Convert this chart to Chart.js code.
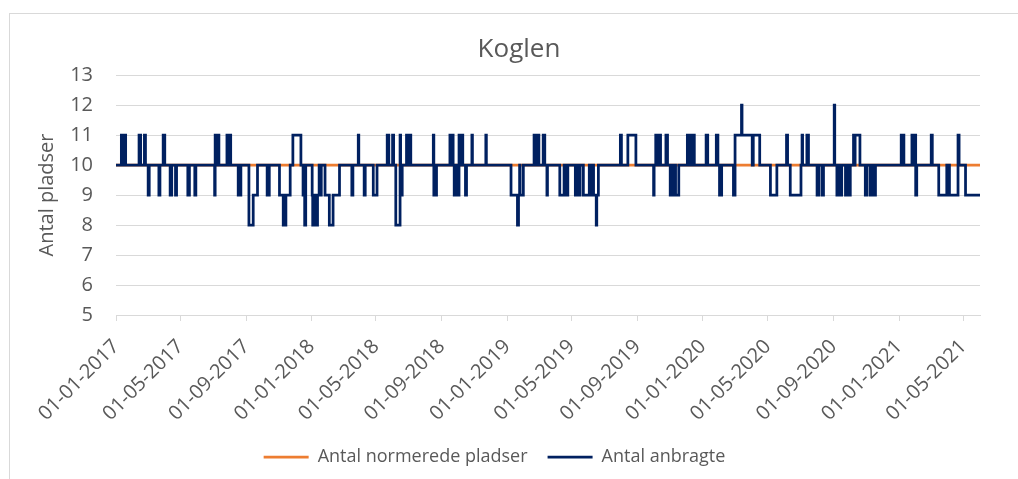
<!DOCTYPE html>
<html>
<head>
<meta charset="utf-8">
<title>Koglen</title>
<script src="https://cdn.jsdelivr.net/npm/chart.js@4.4.1/dist/chart.umd.min.js"></script>
<style>
  html, body { margin: 0; padding: 0; background: #fff; overflow: hidden; }
  #frame { position: absolute; left: 9px; top: 13px; width: 1200px; height: 700px; border: 1px solid #d9d9d9; }
  #myChart { position: absolute; left: 0; top: 0; }
</style>
</head>
<body>
<div id="frame"></div>
<canvas id="myChart" width="1018" height="479"></canvas>
<script>
const chartTitle = "Koglen";
const yTitle = "Antal pladser";

// x-axis tick labels (every 4 months)
const tickLabels = [
  "01-01-2017", "01-05-2017", "01-09-2017",
  "01-01-2018", "01-05-2018", "01-09-2018",
  "01-01-2019", "01-05-2019", "01-09-2019",
  "01-01-2020", "01-05-2020", "01-09-2020",
  "01-01-2021", "01-05-2021",
];

// Antal normerede pladser (flat)
const normDates = ["2017-01-01", "2021-06-01"];
const normValues = [10, 10];

// Antal anbragte: dates where the value changes, and the new value
const anbragteDates = [
  "2017-01-01", "2017-01-11", "2017-01-13", "2017-01-14", "2017-01-19", "2017-02-13", "2017-02-16",
  "2017-02-23", "2017-02-25", "2017-03-02", "2017-03-04", "2017-03-22", "2017-03-24", "2017-03-30",
  "2017-04-02", "2017-04-12", "2017-04-15", "2017-04-22", "2017-04-24", "2017-05-15", "2017-05-18",
  "2017-05-28", "2017-05-30", "2017-07-04", "2017-07-05", "2017-07-08", "2017-07-09", "2017-07-12",
  "2017-07-27", "2017-07-30", "2017-07-31", "2017-08-03", "2017-08-17", "2017-08-19", "2017-08-20",
  "2017-08-22", "2017-09-06", "2017-09-14", "2017-09-22", "2017-10-10", "2017-10-14", "2017-11-02",
  "2017-11-09", "2017-11-14", "2017-11-22", "2017-11-27", "2017-12-12", "2017-12-16", "2017-12-19",
  "2017-12-21", "2018-01-02", "2018-01-03", "2018-01-07", "2018-01-08", "2018-01-12", "2018-01-15",
  "2018-01-16", "2018-01-19", "2018-01-26", "2018-02-03", "2018-02-10", "2018-02-22",
  "2018-03-17", "2018-03-19", "2018-03-29", "2018-03-30", "2018-04-09", "2018-04-11", "2018-04-26",
  "2018-05-03", "2018-05-22", "2018-05-25", "2018-06-01", "2018-06-03", "2018-06-07", "2018-06-15",
  "2018-06-16", "2018-06-19", "2018-06-27", "2018-06-29", "2018-06-30", "2018-07-05", "2018-08-16",
  "2018-08-17", "2018-08-22", "2018-09-16", "2018-09-18", "2018-09-19", "2018-09-22", "2018-09-24",
  "2018-09-26", "2018-10-01", "2018-10-03", "2018-10-05", "2018-10-06", "2018-10-10", "2018-10-15",
  "2018-10-17", "2018-10-27", "2018-10-28", "2018-11-22", "2018-11-23",
  "2019-01-08", "2019-01-20", "2019-01-22", "2019-01-24", "2019-01-25", "2019-01-31", "2019-02-20",
  "2019-02-24", "2019-02-25", "2019-03-01", "2019-03-09", "2019-03-12", "2019-03-16", "2019-03-17",
  "2019-04-09", "2019-04-17", "2019-04-18", "2019-04-21", "2019-04-22", "2019-04-24", "2019-05-08",
  "2019-05-12", "2019-05-13", "2019-05-17", "2019-05-23", "2019-06-03", "2019-06-04", "2019-06-06",
  "2019-06-11", "2019-06-16", "2019-06-17", "2019-06-20", "2019-07-31", "2019-08-02", "2019-08-14",
  "2019-08-29", "2019-10-01", "2019-10-02", "2019-10-05", "2019-10-08", "2019-10-09", "2019-10-14",
  "2019-10-24", "2019-10-27", "2019-11-01", "2019-11-05", "2019-11-06", "2019-11-10", "2019-11-11",
  "2019-11-17", "2019-12-03", "2019-12-06", "2019-12-07", "2019-12-10", "2019-12-12", "2019-12-16",
  "2020-01-07", "2020-01-10", "2020-01-26", "2020-01-29", "2020-02-01", "2020-02-05", "2020-02-27",
  "2020-03-01", "2020-03-13", "2020-03-14", "2020-04-02", "2020-04-04", "2020-04-16", "2020-05-06",
  "2020-05-18", "2020-06-05", "2020-06-07", "2020-06-12", "2020-07-02", "2020-07-04", "2020-07-05",
  "2020-07-13", "2020-07-16", "2020-08-01", "2020-08-04", "2020-08-10", "2020-08-13", "2020-09-02",
  "2020-09-03", "2020-09-07", "2020-09-10", "2020-09-11", "2020-09-16", "2020-09-23", "2020-09-26",
  "2020-09-28", "2020-10-02", "2020-10-08", "2020-10-10", "2020-10-11", "2020-10-20", "2020-10-30",
  "2020-11-02", "2020-11-08", "2020-11-11", "2020-11-13", "2020-11-18",
  "2021-01-05", "2021-01-10", "2021-01-25", "2021-01-28", "2021-01-29", "2021-02-01", "2021-02-03",
  "2021-03-02", "2021-03-04", "2021-03-16", "2021-03-31", "2021-04-01", "2021-04-04", "2021-04-05",
  "2021-04-21", "2021-04-23", "2021-05-05", "2021-06-01",
];
const anbragteValues = [
  10, 11, 10, 11, 10, 11, 10,
  11, 10, 9, 10, 9, 10, 11,
  10, 9, 10, 9, 10, 9, 10,
  9, 10, 9, 11, 10, 11, 10,
  11, 10, 11, 10, 9, 10, 9,
  10, 8, 9, 10, 9, 10, 9,
  8, 9, 10, 11, 10, 9, 8,
  10, 9, 8, 9, 8, 9, 10,
  9, 10, 9, 8, 9, 10,
  9, 10, 11, 10, 9, 10, 9,
  10, 11, 10, 11, 10, 8, 11,
  9, 10, 11, 10, 11, 10, 11,
  9, 10, 11, 10, 11, 10, 9,
  10, 9, 11, 10, 11, 10, 9,
  10, 11, 10, 11, 10,
  9, 8, 9, 10, 9, 10, 11,
  10, 11, 10, 11, 10, 9, 10,
  9, 10, 9, 10, 9, 10, 9,
  10, 9, 10, 9, 10, 9, 10,
  9, 8, 9, 10, 11, 10, 11,
  10, 9, 10, 11, 10, 11, 10,
  11, 10, 9, 10, 9, 10, 9,
  10, 11, 10, 11, 10, 11, 10,
  11, 10, 11, 10, 9, 10, 9,
  11, 12, 11, 10, 11, 10, 9,
  10, 11, 10, 9, 10, 11, 10,
  11, 10, 9, 10, 9, 10, 12,
  10, 9, 10, 9, 10, 9, 10,
  9, 10, 11, 10, 11, 10, 9,
  10, 9, 10, 9, 10,
  11, 10, 11, 10, 11, 9, 10,
  11, 10, 9, 10, 9, 10, 9,
  11, 10, 9, 9,
];

// days since 01-01-2017
const dayNum = (s) => {
  const [y, m, d] = s.split("-").map(Number);
  return (Date.UTC(y, m - 1, d) - Date.UTC(2017, 0, 1)) / 86400000;
};
const tickDay = (label) => {
  const [d, m, y] = label.split("-");
  return dayNum(`${y}-${m}-${d}`);
};
const tickValues = tickLabels.map(tickDay);

const fontFamily = "'Open Sans', sans-serif";
const textColor = "#595959";
const gridColor = "#d9d9d9";

const titlePlugin = {
  id: "koglenTitle",
  afterDraw(chart) {
    const ctx = chart.ctx;
    ctx.save();
    ctx.font = `26px ${fontFamily}`;
    ctx.fillStyle = textColor;
    ctx.textAlign = "center";
    ctx.textBaseline = "middle";
    ctx.fillText(chartTitle, 519, 50);
    ctx.restore();
  },
};

const ctx = document.getElementById("myChart").getContext("2d");
const myChart = new Chart(ctx, {
  type: "line",
  data: {
    datasets: [
      {
        label: "Antal normerede pladser",
        data: normDates.map((d, i) => ({ x: dayNum(d), y: normValues[i] })),
        borderColor: "#ed7d31",
        backgroundColor: "#ed7d31",
        borderWidth: 2.75,
        pointRadius: 0,
        stepped: true,
        order: 1,
      },
      {
        label: "Antal anbragte",
        data: anbragteDates.map((d, i) => ({ x: dayNum(d), y: anbragteValues[i] })),
        borderColor: "#002060",
        backgroundColor: "#002060",
        borderWidth: 2.75,
        pointRadius: 0,
        stepped: true,
        order: 0,
      },
    ],
  },
  options: {
    responsive: false,
    animation: false,
    layout: { padding: { left: 9, right: 38, top: 75, bottom: 11 } },
    scales: {
      x: {
        type: "linear",
        min: 0,
        max: dayNum("2021-06-01"),
        afterBuildTicks: (scale) => {
          scale.ticks = tickValues.map((v) => ({ value: v }));
        },
        afterFit: (scale) => {
          scale.height = 113;
        },
        ticks: {
          autoSkip: false,
          minRotation: 45,
          maxRotation: 45,
          padding: 14,
          color: textColor,
          font: { family: fontFamily, size: 20 },
          callback: (value) => tickLabels[tickValues.indexOf(value)],
        },
        grid: {
          drawOnChartArea: false,
          drawTicks: true,
          tickLength: 6,
          color: gridColor,
        },
        border: { color: gridColor },
      },
      y: {
        min: 5,
        max: 13,
        afterFit: (scale) => {
          scale.width = 107;
        },
        ticks: {
          stepSize: 1,
          padding: 23,
          color: textColor,
          font: { family: fontFamily, size: 20 },
        },
        grid: { color: gridColor, drawTicks: false },
        border: { display: false },
        title: {
          display: true,
          text: yTitle,
          color: textColor,
          font: { family: fontFamily, size: 20 },
          padding: { top: 26, bottom: 0 },
        },
      },
    },
    plugins: {
      title: { display: false },
      tooltip: { enabled: false },
      legend: {
        position: "bottom",
        maxHeight: 40,
        labels: {
          color: textColor,
          font: { family: fontFamily, size: 18 },
          usePointStyle: true,
          pointStyle: "line",
          pointStyleWidth: 45,
          padding: 20,
          sort: (a, b) => a.datasetIndex - b.datasetIndex,
        },
      },
    },
  },
  plugins: [titlePlugin],
});
</script>
</body>
</html>
